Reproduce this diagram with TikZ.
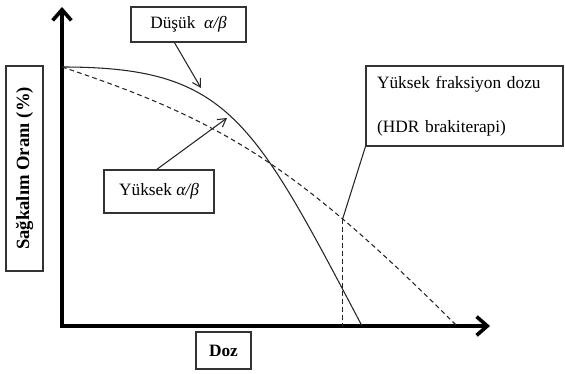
\documentclass[tikz,border=0pt]{standalone}
\usepackage{fontspec}
\setmainfont{Liberation Serif}
\usetikzlibrary{arrows.meta}

\begin{document}
\begin{tikzpicture}[x=0.75pt, y=-0.75pt,
    box/.style={draw=black!80, line width=0.8pt, inner sep=0pt, font=\fontsize{13}{15}\selectfont},
    axis/.style={line width=2.7pt, {Straight Barb[length=8pt, width=14pt]}-{Straight Barb[length=8pt, width=14pt]}},
    lead/.style={black!85, line width=0.8pt},
    dlead/.style={lead, dash pattern=on 3.5pt off 2.5pt},
    tip/.style={-{Straight Barb[length=6pt, width=7pt]}}]
\useasboundingbox (0,0) rectangle (565,374);
    \coordinate (org) at (62,326);
    \coordinate (ytop) at (62,7);
    \coordinate (xend) at (490,326);
    \draw[axis] (ytop) -- (org) -- (xend);
    % survival curves
    \draw[lead] (62,67) .. controls (227,67) and (252,117) .. (362,326);
    \draw[dlead] (62,67) .. controls (222,120) and (297,166) .. coordinate[pos=0.73] (frac) (457,326);
    \draw[dlead] (frac) -- (frac |- org);
    % labels
    \node[box, minimum width=86.25pt, minimum height=26.25pt] (dusuk) at (188.5,24.5) {Düşük \ \textit{α/β}};
    \node[box, minimum width=82.5pt, minimum height=32.25pt] (yuksek) at (159,191.5) {Yüksek \textit{α/β}};
    \node[box, minimum width=147.75pt, minimum height=60pt, inner xsep=8.25pt, text width=131.25pt, align=left] (hdr) at (464.5,106) {Yüksek fraksiyon dozu\\[18pt](HDR brakiterapi)};
    \node[box, rotate=90, minimum width=153.75pt, minimum height=27.75pt, font=\fontsize{14}{16}\selectfont\bfseries] (sag) at (24.5,168.5) {Sağkalım Oranı (\%)};
    \node[box, minimum width=41.25pt, minimum height=27.75pt, font=\fontsize{13}{15}\selectfont\bfseries] (doz) at (223.5,350.5) {Doz};
    \coordinate (dtip) at (201,88);
    \coordinate (ytip) at (227,118);
    \draw[lead, tip] (dusuk.-128) -- (dtip);
    \draw[lead, tip] (yuksek.96) -- (ytip);
    \draw[lead] (hdr.south west) -- (frac);
\end{tikzpicture}
\end{document}
